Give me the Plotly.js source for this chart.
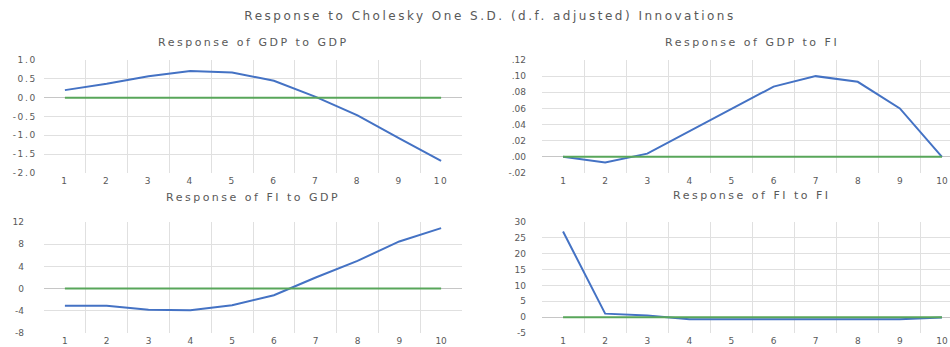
<!DOCTYPE html>
<html>
<head>
<meta charset="utf-8">
<script src="https://cdn.plot.ly/plotly-3.0.1.min.js"></script>
<style>
  html, body { margin: 0; padding: 0; background: #ffffff; }
  #chart { width: 950px; height: 347px; }
  .gtitle { letter-spacing: 2.5px; }
  .annotation-text { letter-spacing: 2.5px; }
  .xtick text, .ytick text { letter-spacing: 1.7px; }
</style>
</head>
<body>
<div id="chart"></div>
<script>
// Impulse-response horizons (periods)
const periods = [1, 2, 3, 4, 5, 6, 7, 8, 9, 10];
const periodLabels = ['1', '2', '3', '4', '5', '6', '7', '8', '9', '10'];

// Responses per period
const gdpToGdp = [0.20, 0.37, 0.57, 0.71, 0.67, 0.45, 0.02, -0.47, -1.08, -1.68];
const gdpToFi  = [0.000, -0.007, 0.004, 0.032, 0.060, 0.087, 0.100, 0.093, 0.060, 0.000];
const fiToGdp  = [-3.1, -3.1, -3.8, -3.9, -3.0, -1.2, 2.0, 5.0, 8.5, 10.9];
const fiToFi   = [27.0, 1.1, 0.5, -0.7, -0.7, -0.7, -0.7, -0.7, -0.7, -0.1];
const baseline = [0, 0, 0, 0, 0, 0, 0, 0, 0, 0];

// Y tick values and labels for each panel
const yTicksGdpGdp = [1.0, 0.5, 0.0, -0.5, -1.0, -1.5, -2.0];
const yLabelsGdpGdp = ['1.0', '0.5', '0.0', '-0.5', '-1.0', '-1.5', '-2.0'];
const yTicksGdpFi = [0.12, 0.10, 0.08, 0.06, 0.04, 0.02, 0.00, -0.02];
const yLabelsGdpFi = ['.12', '.10', '.08', '.06', '.04', '.02', '.00', '-.02'];
const yTicksFiGdp = [12, 8, 4, 0, -4, -8];
const yLabelsFiGdp = ['12', '8', '4', '0', '-4', '-8'];
const yTicksFiFi = [30, 25, 20, 15, 10, 5, 0, -5];
const yLabelsFiFi = ['30', '25', '20', '15', '10', '5', '0', '-5'];

const panelTitles = ['Response of GDP to GDP', 'Response of GDP to FI',
                     'Response of FI to GDP', 'Response of FI to FI'];
const mainTitle = 'Response to Cholesky One S.D. (d.f. adjusted) Innovations';

const BLUE = '#4472C4';
const GREEN = '#58A65A';
const GRID = '#e0e0e0';
const TEXT = '#595959';
const FONT = 'DejaVu Sans, sans-serif';

const W = 950, H = 347;
const boundaries = periods.slice(0, -1).map(p => p + 0.5);

function xAxis(left, right, rangeEnd, anchor) {
  return {
    domain: [left / W, right / W],
    range: [0.5, rangeEnd],
    anchor: anchor,
    tickmode: 'array',
    tickvals: periods,
    ticktext: periodLabels,
    showgrid: false,
    zeroline: false,
    showline: false,
    ticks: '',
    ticklabelstandoff: 1,
    tickfont: { family: FONT, size: 9, color: TEXT },
    minor: { tickmode: 'array', tickvals: boundaries, showgrid: true, gridcolor: GRID, gridwidth: 1, ticks: '' },
    fixedrange: true
  };
}

function yAxis(topPx, bottomPx, range, vals, labels, anchor, standoff) {
  return {
    domain: [1 - bottomPx / H, 1 - topPx / H],
    range: range,
    anchor: anchor,
    tickmode: 'array',
    tickvals: vals,
    ticktext: labels,
    showgrid: true,
    gridcolor: GRID,
    gridwidth: 1,
    zeroline: true,
    zerolinecolor: '#c6c6c6',
    zerolinewidth: 1,
    showline: false,
    ticks: '',
    ticklabelstandoff: standoff,
    tickfont: { family: FONT, size: 9, color: TEXT },
    fixedrange: true
  };
}

function pair(values, xa, ya) {
  return [
    { x: periods, y: values, xaxis: xa, yaxis: ya, type: 'scatter', mode: 'lines',
      line: { color: BLUE, width: 2 }, hoverinfo: 'skip' },
    { x: periods, y: baseline, xaxis: xa, yaxis: ya, type: 'scatter', mode: 'lines',
      line: { color: GREEN, width: 2 }, hoverinfo: 'skip' }
  ];
}

const data = [].concat(
  pair(gdpToGdp, 'x', 'y'),
  pair(gdpToFi, 'x2', 'y2'),
  pair(fiToGdp, 'x3', 'y3'),
  pair(fiToFi, 'x4', 'y4')
);

// Right-hand panels run past the window edge, so their x range stops short of 10.5
const rightEnd = 0.5 + (W - 542) / 42.1;

const titleFont = { family: FONT, size: 11, color: TEXT };

const layout = {
  width: W,
  height: H,
  margin: { l: 0, r: 0, t: 0, b: 0 },
  paper_bgcolor: '#ffffff',
  plot_bgcolor: '#ffffff',
  showlegend: false,
  title: { text: mainTitle, x: 490 / W, xanchor: 'center', y: 1 - 16 / H, yanchor: 'middle',
           font: { family: FONT, size: 12, color: TEXT } },
  xaxis:  xAxis(44, 462, 10.5, 'y'),
  yaxis:  yAxis(60, 173, [-2, 1], yTicksGdpGdp, yLabelsGdpGdp, 'x', 6),
  xaxis2: xAxis(542, 950, rightEnd, 'y2'),
  yaxis2: yAxis(60, 173, [-0.02, 0.12], yTicksGdpFi, yLabelsGdpFi, 'x2', 15),
  xaxis3: xAxis(44, 462, 10.5, 'y3'),
  yaxis3: yAxis(222, 333, [-8, 12], yTicksFiGdp, yLabelsFiGdp, 'x3', 19),
  xaxis4: xAxis(542, 950, rightEnd, 'y4'),
  yaxis4: yAxis(222, 333, [-5, 30], yTicksFiFi, yLabelsFiFi, 'x4', 15),
  annotations: [
    { text: panelTitles[0], x: 253 / W, y: 1 - 42 / H },
    { text: panelTitles[1], x: 752 / W, y: 1 - 42 / H },
    { text: panelTitles[2], x: 253 / W, y: 1 - 197 / H },
    { text: panelTitles[3], x: 752 / W, y: 1 - 195 / H }
  ].map(a => Object.assign(a, {
    xref: 'paper', yref: 'paper', xanchor: 'center', yanchor: 'middle',
    showarrow: false, font: titleFont
  }))
};

Plotly.newPlot('chart', data, layout, { staticPlot: true, displayModeBar: false });
</script>
</body>
</html>
